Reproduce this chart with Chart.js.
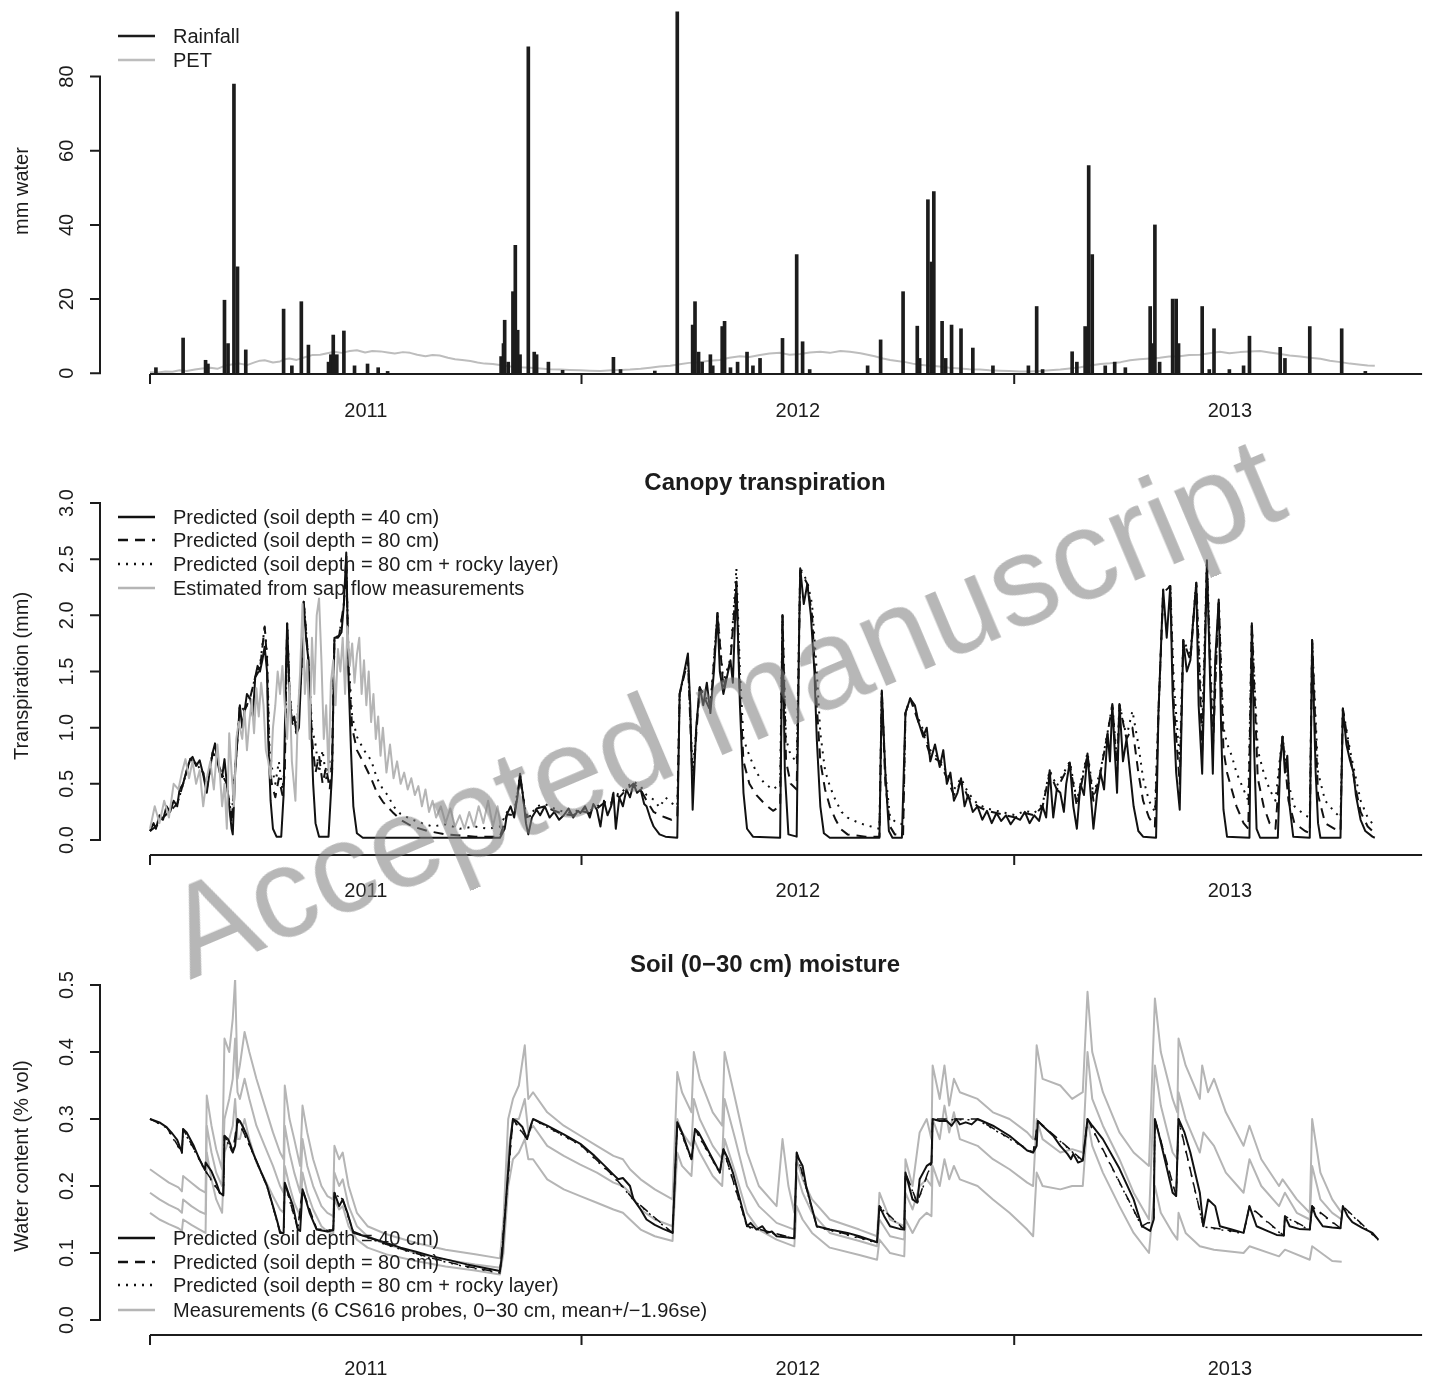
<!DOCTYPE html>
<html><head><meta charset="utf-8">
<script src="https://cdn.jsdelivr.net/npm/chart.js@4.4.0/dist/chart.umd.min.js"></script>
<style>
html,body{margin:0;padding:0;background:#fff;}
#wrap{position:relative;width:1437px;height:1385px;overflow:hidden;background:#fff;}
canvas{position:absolute;left:0;}
#wm{position:absolute;left:190px;top:871.6px;font:128px "Liberation Sans",Arial,sans-serif;line-height:1;white-space:nowrap;color:rgba(128,128,128,0.57);transform-origin:0 108.4px;transform:rotate(-22.9deg);pointer-events:none;}
</style></head><body>
<div id="wrap">
<canvas id="c1" width="1437" height="420" style="top:0;width:1437px;height:420px"></canvas>
<canvas id="c2" width="1437" height="480" style="top:420px;width:1437px;height:480px"></canvas>
<canvas id="c3" width="1437" height="485" style="top:900px;width:1437px;height:485px"></canvas>
<div id="wm">Accepted manuscript</div>
</div>
<script>
// ---------- time axis (days since 2011-01-01) ----------
const yearLabels = ['2011', '2012', '2013'];
const yearStarts = [0, 365, 731];
const yearMids = [182.5, 548, 913.5];
const xAxisRange = [0, 1076];

// ---------- panel 1: rainfall & PET (mm water) ----------
const rainTicks = [0, 20, 40, 60, 80];
const rainfall = [[5,1.5],[28,9.5],[47,3.5],[49,2.5],[63,19.7],[66,8],[71,78],[74,28.7],[81,6.3],[113,17.3],[120,2],[128,19.3],[134,7.6],[151,3],[153,5],[155,10.3],[158,5],[164,11.4],[173,2],[184,2.5],[193,1.5],[201,0.5],[297,4.5],[299,8],[300,14.3],[303,3],[307,22],[309,34.5],[311,11.6],[313,5],[320,88],[325,5.7],[327,5],[337,3],[349,0.8],[392,4.3],[398,1],[427,0.6],[446,97.5],[459,13],[461,19.3],[464,5.7],[467,3],[474,5],[476,2],[484,12.6],[486,14],[491,1.5],[497,3],[505,5.7],[510,2],[516,4],[535,9.4],[547,32],[552,8.5],[558,1],[607,2],[618,9],[637,22],[649,12.7],[651,4],[658,46.8],[661,30],[663,49],[670,14],[673,4],[678,13],[686,12],[696,6.8],[713,2],[743,2],[750,18],[755,1],[780,5.8],[784,3],[791,12.6],[794,56],[797,32],[808,2],[816,3],[825,1.5],[846,18],[848,8],[850,40],[854,3],[865,20],[868,20],[870,8],[890,18],[896,1],[900,12],[913,1],[925,2],[930,10],[956,7],[960,4],[981,12.6],[1008,12],[1028,0.5]];
const pet = [[0,0.3],[7,0.2],[13,0.5],[19,0.4],[25,0.8],[31,0.6],[38,1.0],[44,1.3],[51,1.5],[57,1.2],[63,2.0],[70,2.4],[76,2.6],[82,2.2],[89,3.0],[93,3.4],[97,3.5],[104,2.9],[110,3.2],[114,3.8],[118,4.0],[124,3.6],[131,4.3],[137,4.9],[144,5.0],[150,5.4],[156,5.8],[162,5.5],[169,6.0],[175,6.2],[182,5.6],[188,6.0],[195,5.9],[201,5.6],[207,5.3],[214,5.7],[220,5.5],[226,5.0],[233,4.6],[239,4.9],[245,4.8],[252,4.2],[258,3.8],[264,3.6],[271,3.3],[277,2.9],[283,2.6],[290,2.5],[296,2.2],[305,1.8],[313,1.6],[322,1.5],[330,1.3],[338,1.1],[347,1.0],[355,0.9],[364,0.8],[372,0.7],[381,0.6],[390,0.8],[398,0.9],[406,1.0],[415,1.2],[423,1.5],[431,1.8],[440,2.0],[448,2.4],[456,2.8],[465,3.0],[473,3.4],[482,3.6],[490,4.2],[499,4.6],[507,4.4],[516,4.9],[524,5.3],[533,5.5],[541,5.0],[550,5.2],[558,5.6],[567,5.8],[575,5.5],[584,6.0],[592,5.8],[601,5.4],[607,5.0],[613,4.6],[620,4.0],[626,3.6],[632,3.3],[639,3.0],[645,2.6],[651,2.3],[660,2.0],[668,1.8],[676,1.5],[685,1.3],[693,1.1],[702,1.0],[710,0.8],[719,0.7],[727,0.6],[736,0.5],[744,0.5],[753,0.6],[761,0.8],[770,1.0],[778,1.3],[787,1.6],[795,2.1],[804,2.5],[812,2.7],[821,3.0],[829,3.5],[837,3.8],[846,4.0],[854,4.2],[862,4.5],[871,4.6],[879,4.9],[888,5.0],[896,5.4],[905,5.8],[913,5.4],[922,5.7],[930,5.9],[939,6.0],[947,5.6],[956,5.2],[964,4.8],[973,4.5],[981,4.2],[990,3.9],[998,3.4],[1007,3.0],[1015,2.6],[1024,2.3],[1030,2.1],[1036,2.0]];

// ---------- panel 2: canopy transpiration (mm) ----------
const trTicks = [0, 0.5, 1, 1.5, 2, 2.5, 3];
const trTickLabels = ['0.0', '0.5', '1.0', '1.5', '2.0', '2.5', '3.0'];
const trPred40 = [[0,0.08],[3,0.15],[5,0.1],[8,0.22],[11,0.18],[14,0.3],[17,0.25],[20,0.35],[23,0.3],[25,0.45],[28,0.5],[31,0.62],[34,0.72],[36,0.74],[39,0.66],[42,0.71],[45,0.58],[48,0.42],[51,0.65],[53,0.78],[55,0.86],[57,0.7],[59,0.6],[61,0.56],[63,0.72],[65,0.5],[67,0.3],[69,0.1],[70,0.05],[72,0.6],[74,0.9],[76,1.2],[78,1.0],[80,1.15],[82,1.3],[85,1.25],[87,1.1],[89,1.45],[91,1.55],[93,1.5],[95,1.6],[97,1.72],[99,1.5],[100,0.9],[102,0.35],[104,0.1],[107,0.03],[111,0.03],[113,0.4],[115,1.5],[116,1.93],[118,1.3],[120,1.05],[122,1.1],[124,0.95],[126,1.0],[128,1.5],[130,2.12],[132,1.8],[134,1.6],[136,1.1],[138,0.5],[140,0.15],[143,0.03],[151,0.03],[154,0.6],[156,1.8],[159,1.8],[162,1.85],[164,2.1],[166,2.56],[168,1.42],[170,0.8],[172,0.3],[175,0.06],[180,0.02],[296,0.02],[300,0.1],[302,0.23],[305,0.3],[308,0.2],[311,0.4],[313,0.59],[316,0.35],[318,0.15],[320,0.05],[323,0.2],[327,0.27],[330,0.22],[334,0.3],[338,0.2],[342,0.25],[346,0.18],[350,0.22],[354,0.28],[358,0.2],[362,0.26],[364,0.24],[368,0.3],[372,0.2],[375,0.32],[378,0.27],[381,0.12],[384,0.35],[387,0.22],[390,0.3],[392,0.42],[394,0.1],[397,0.38],[400,0.3],[403,0.45],[406,0.38],[409,0.5],[412,0.42],[415,0.45],[418,0.32],[420,0.3],[423,0.2],[426,0.12],[431,0.05],[436,0.03],[446,0.02],[448,1.3],[451,1.45],[455,1.66],[457,1.2],[459,0.27],[462,1.0],[465,1.36],[468,1.2],[471,1.4],[474,1.13],[477,1.5],[480,2.02],[482,1.5],[485,1.3],[488,1.45],[491,1.6],[493,1.4],[496,2.3],[499,1.2],[502,0.42],[505,0.1],[510,0.03],[533,0.02],[535,2.0],[537,0.6],[540,0.05],[547,0.03],[549,1.8],[550,2.42],[553,2.1],[556,2.28],[559,2.0],[562,1.5],[564,0.9],[567,0.3],[570,0.06],[575,0.02],[617,0.02],[619,1.33],[622,0.6],[625,0.08],[628,0.02],[636,0.02],[639,1.13],[643,1.26],[647,1.2],[650,1.05],[654,0.92],[657,1.0],[660,0.7],[664,0.85],[668,0.65],[671,0.8],[674,0.5],[677,0.6],[680,0.35],[683,0.42],[686,0.55],[689,0.3],[692,0.4],[696,0.25],[700,0.3],[704,0.18],[708,0.26],[712,0.15],[716,0.24],[720,0.17],[724,0.22],[728,0.14],[732,0.2],[736,0.18],[740,0.25],[744,0.15],[748,0.22],[752,0.17],[755,0.3],[758,0.2],[761,0.62],[764,0.2],[767,0.45],[770,0.42],[773,0.25],[775,0.5],[778,0.69],[781,0.3],[784,0.1],[787,0.5],[790,0.4],[793,0.77],[795,0.5],[798,0.1],[801,0.4],[804,0.6],[807,0.45],[810,0.95],[812,0.7],[814,1.21],[816,0.8],[818,0.42],[820,1.21],[823,0.7],[826,0.9],[829,0.6],[832,0.3],[836,0.08],[840,0.03],[851,0.02],[853,1.13],[857,2.23],[860,1.8],[863,2.26],[865,1.3],[868,0.6],[871,0.27],[874,1.78],[877,1.5],[880,1.6],[882,1.9],[885,2.29],[887,1.2],[890,0.59],[892,1.5],[894,2.49],[897,1.3],[899,0.59],[901,1.6],[904,2.14],[906,1.0],[908,0.27],[911,0.03],[930,0.02],[932,1.93],[934,0.8],[936,0.1],[939,0.02],[954,0.02],[956,0.7],[958,0.92],[960,0.6],[962,0.75],[964,0.3],[967,0.03],[981,0.02],[983,1.78],[986,0.6],[988,0.15],[990,0.02],[1007,0.02],[1009,1.17],[1012,0.85],[1015,0.71],[1018,0.6],[1020,0.4],[1024,0.18],[1028,0.08],[1034,0.03],[1036,0.02]];
const trPred80 = [[0,0.08],[5,0.12],[11,0.2],[17,0.26],[23,0.32],[28,0.5],[34,0.72],[39,0.68],[45,0.6],[48,0.45],[53,0.78],[57,0.7],[61,0.58],[65,0.5],[69,0.15],[72,0.62],[76,1.2],[80,1.15],[85,1.28],[89,1.45],[93,1.52],[97,1.9],[99,1.6],[101,0.7],[103,0.5],[106,0.38],[109,0.55],[112,0.4],[114,0.6],[116,1.93],[118,1.3],[120,1.05],[124,0.95],[128,1.5],[130,2.12],[134,1.6],[137,0.9],[140,0.6],[143,0.75],[146,0.5],[149,0.65],[152,0.45],[154,0.7],[156,1.8],[160,1.82],[164,2.1],[166,2.5],[168,1.5],[171,1.0],[175,0.8],[181,0.68],[187,0.55],[192,0.42],[197,0.34],[205,0.25],[212,0.18],[222,0.12],[235,0.08],[250,0.05],[275,0.03],[296,0.03],[302,0.23],[308,0.22],[313,0.55],[318,0.2],[323,0.22],[327,0.28],[334,0.3],[342,0.26],[350,0.23],[358,0.22],[364,0.26],[372,0.24],[378,0.28],[384,0.33],[390,0.3],[392,0.42],[397,0.38],[403,0.45],[409,0.5],[415,0.45],[420,0.35],[426,0.25],[431,0.22],[436,0.2],[441,0.18],[446,0.2],[448,1.3],[455,1.6],[459,0.5],[465,1.36],[474,1.15],[480,2.02],[485,1.35],[491,1.6],[496,2.3],[499,1.3],[502,0.7],[507,0.5],[513,0.4],[520,0.32],[527,0.26],[533,0.3],[535,2.0],[538,0.7],[542,0.5],[547,0.45],[550,2.4],[556,2.28],[560,2.0],[564,1.2],[567,0.7],[571,0.45],[575,0.3],[580,0.18],[584,0.1],[590,0.05],[605,0.03],[617,0.03],[619,1.33],[622,0.5],[626,0.12],[630,0.05],[637,0.04],[639,1.13],[643,1.26],[650,1.05],[654,0.95],[660,0.75],[668,0.7],[674,0.55],[680,0.4],[686,0.52],[692,0.38],[700,0.3],[708,0.26],[716,0.24],[724,0.22],[732,0.2],[740,0.24],[748,0.22],[755,0.3],[761,0.6],[767,0.45],[778,0.68],[784,0.3],[793,0.76],[798,0.35],[804,0.6],[810,0.95],[814,1.2],[818,0.6],[820,1.2],[826,0.9],[831,1.0],[836,0.6],[840,0.35],[845,0.2],[850,0.12],[853,1.13],[857,2.2],[863,2.26],[866,1.2],[871,0.5],[874,1.78],[880,1.6],[885,2.29],[890,0.8],[894,2.45],[899,0.8],[904,2.14],[908,0.8],[911,0.6],[915,0.45],[919,0.3],[925,0.15],[929,0.1],[932,1.93],[937,0.55],[942,0.3],[947,0.15],[952,0.1],[956,0.7],[958,0.92],[963,0.35],[968,0.15],[977,0.08],[981,0.06],[983,1.78],[988,0.4],[994,0.15],[1002,0.1],[1007,0.08],[1009,1.17],[1015,0.75],[1020,0.45],[1024,0.25],[1030,0.12],[1036,0.06]];
const trPred80Rocky = [[0,0.08],[5,0.12],[11,0.2],[17,0.26],[23,0.32],[28,0.5],[34,0.72],[39,0.68],[45,0.6],[48,0.45],[53,0.78],[57,0.7],[61,0.58],[65,0.5],[69,0.2],[72,0.62],[76,1.2],[80,1.15],[85,1.28],[89,1.45],[93,1.55],[97,1.9],[99,1.65],[101,0.85],[103,0.65],[106,0.5],[109,0.7],[112,0.45],[114,0.65],[116,1.93],[118,1.35],[120,1.1],[124,1.0],[128,1.5],[130,2.12],[134,1.6],[137,1.0],[140,0.85],[143,0.6],[146,0.8],[149,0.55],[152,0.7],[154,0.6],[156,1.8],[160,1.82],[164,2.1],[166,2.5],[168,1.6],[171,1.1],[175,0.92],[181,0.8],[187,0.71],[192,0.55],[197,0.45],[201,0.4],[206,0.3],[212,0.23],[222,0.18],[230,0.15],[239,0.12],[250,0.14],[262,0.1],[275,0.12],[286,0.1],[296,0.12],[302,0.25],[308,0.24],[313,0.58],[318,0.22],[323,0.24],[327,0.3],[334,0.32],[342,0.28],[350,0.25],[358,0.24],[364,0.28],[372,0.26],[378,0.3],[384,0.34],[390,0.32],[392,0.43],[397,0.4],[403,0.47],[409,0.52],[415,0.48],[420,0.4],[426,0.36],[431,0.29],[436,0.38],[441,0.33],[446,0.3],[448,1.3],[455,1.62],[459,0.6],[465,1.36],[474,1.2],[480,2.02],[485,1.4],[491,1.62],[496,2.42],[499,1.5],[502,0.9],[507,0.75],[513,0.6],[520,0.5],[527,0.45],[533,0.5],[535,2.0],[538,0.9],[542,0.75],[547,0.7],[550,2.42],[556,2.3],[560,2.1],[564,1.5],[567,0.95],[571,0.62],[575,0.48],[580,0.35],[585,0.25],[590,0.2],[600,0.15],[610,0.12],[617,0.1],[619,1.33],[622,0.6],[626,0.2],[632,0.15],[637,0.14],[639,1.13],[643,1.26],[650,1.08],[654,0.98],[660,0.8],[668,0.72],[674,0.6],[680,0.45],[686,0.55],[692,0.42],[700,0.32],[708,0.28],[716,0.26],[724,0.24],[732,0.22],[740,0.26],[748,0.24],[755,0.32],[761,0.62],[767,0.48],[778,0.7],[784,0.35],[793,0.78],[798,0.4],[804,0.62],[810,0.96],[814,1.21],[818,0.7],[820,1.21],[826,0.92],[831,1.15],[836,0.85],[840,0.55],[845,0.35],[850,0.25],[853,1.13],[857,2.23],[863,2.26],[866,1.4],[871,0.7],[874,1.78],[880,1.65],[885,2.3],[890,1.0],[894,2.49],[899,1.0],[904,2.14],[908,1.0],[911,0.86],[915,0.75],[919,0.6],[925,0.45],[929,0.35],[932,1.93],[937,0.8],[942,0.6],[947,0.45],[952,0.35],[956,0.75],[958,0.92],[963,0.5],[968,0.3],[977,0.22],[981,0.2],[983,1.78],[988,0.6],[994,0.35],[1002,0.25],[1007,0.2],[1009,1.17],[1015,0.8],[1020,0.55],[1024,0.35],[1030,0.2],[1036,0.12]];
const trSapFlow = [[0,0.1],[4,0.3],[8,0.15],[12,0.35],[16,0.2],[20,0.5],[24,0.45],[27,0.6],[30,0.72],[33,0.55],[36,0.7],[39,0.5],[42,0.62],[45,0.3],[48,0.55],[51,0.7],[54,0.45],[57,0.85],[59,0.6],[61,0.3],[63,0.5],[65,0.1],[67,0.95],[69,0.6],[71,0.3],[73,0.9],[75,1.05],[78,0.9],[80,1.15],[82,0.8],[84,1.05],[86,1.25],[88,0.95],[90,1.35],[92,1.1],[94,1.4],[96,1.2],[98,0.8],[100,0.7],[102,0.55],[104,1.0],[106,1.2],[108,1.5],[110,1.3],[112,1.55],[114,1.2],[116,0.9],[118,1.4],[120,0.7],[123,0.35],[125,1.1],[127,1.5],[129,2.1],[131,1.3],[133,1.6],[135,0.9],[137,1.8],[139,1.3],[141,2.0],[143,2.15],[145,1.6],[147,0.9],[149,1.2],[151,0.6],[153,1.4],[155,1.6],[157,1.2],[159,1.7],[161,1.5],[163,1.8],[165,1.3],[167,1.9],[169,1.55],[171,1.75],[173,1.4],[175,1.65],[177,1.8],[179,1.3],[181,1.6],[183,1.2],[185,1.5],[187,1.05],[189,1.3],[191,0.9],[193,1.1],[195,0.75],[197,1.0],[200,0.6],[203,0.85],[206,0.55],[209,0.7],[212,0.5],[215,0.6],[218,0.45],[221,0.55],[224,0.4],[227,0.48],[230,0.3],[233,0.45],[236,0.25],[239,0.35],[242,0.2],[246,0.3],[250,0.15],[254,0.28],[258,0.12],[262,0.22],[266,0.1],[270,0.25],[274,0.12],[278,0.3],[282,0.15],[286,0.35],[290,0.12],[294,0.3],[297,0.1]];

// ---------- panel 3: soil (0-30 cm) moisture ----------
const smTicks = [0, 0.1, 0.2, 0.3, 0.4, 0.5];
const smTickLabels = ['0.0', '0.1', '0.2', '0.3', '0.4', '0.5'];
const smPred40 = [[0,0.3],[8,0.295],[14,0.288],[19,0.278],[23,0.269],[27,0.25],[28,0.285],[31,0.28],[37,0.26],[42,0.239],[46.5,0.224],[47,0.235],[52,0.222],[56,0.205],[59,0.19],[62,0.186],[63,0.275],[66,0.27],[68,0.262],[70,0.25],[72,0.26],[74,0.3],[76,0.297],[79,0.287],[82,0.275],[87,0.25],[93,0.225],[99,0.2],[104,0.17],[108,0.145],[110,0.13],[113,0.13],[114,0.205],[117,0.19],[121,0.17],[125,0.135],[127,0.133],[129,0.195],[132,0.178],[135,0.16],[141,0.135],[150,0.132],[155,0.134],[156,0.19],[160,0.17],[163,0.18],[167,0.16],[172,0.13],[184,0.124],[200,0.115],[212,0.108],[225,0.102],[239,0.095],[254,0.089],[268,0.083],[282,0.078],[296,0.073],[298,0.1],[302,0.2],[305,0.27],[307,0.3],[310,0.297],[315,0.288],[319,0.27],[322,0.29],[324,0.3],[336,0.29],[350,0.277],[364,0.263],[376,0.245],[387,0.226],[392,0.217],[396,0.21],[400,0.212],[406,0.2],[409,0.18],[415,0.165],[420,0.15],[427,0.142],[434,0.136],[442,0.13],[446,0.295],[450,0.28],[454,0.26],[458,0.24],[461,0.285],[464,0.28],[470,0.26],[476,0.24],[482,0.22],[485,0.255],[489,0.24],[493,0.22],[499,0.18],[505,0.14],[508,0.145],[513,0.135],[518,0.14],[522,0.13],[526,0.132],[530,0.125],[545,0.122],[547,0.25],[549,0.24],[552,0.23],[555,0.2],[558,0.18],[564,0.14],[575,0.135],[590,0.13],[600,0.125],[615,0.116],[617,0.17],[621,0.155],[626,0.14],[634,0.136],[638,0.135],[639,0.22],[642,0.2],[645,0.18],[649,0.175],[651,0.21],[654,0.22],[657,0.23],[661,0.235],[662,0.3],[668,0.297],[674,0.297],[678,0.29],[682,0.3],[685,0.292],[690,0.295],[695,0.292],[700,0.3],[713,0.29],[727,0.275],[742,0.253],[747,0.25],[750,0.26],[751,0.297],[755,0.29],[764,0.275],[770,0.26],[776,0.248],[779,0.24],[781,0.248],[785,0.235],[789,0.238],[793,0.3],[797,0.29],[806,0.27],[820,0.226],[832,0.18],[839,0.14],[846,0.133],[849,0.15],[850,0.3],[853,0.28],[857,0.25],[865,0.19],[868,0.185],[870,0.3],[875,0.28],[880,0.25],[888,0.19],[891,0.14],[895,0.18],[901,0.17],[905,0.14],[915,0.135],[925,0.13],[930,0.17],[933,0.155],[936,0.14],[945,0.133],[953,0.127],[959,0.126],[960,0.155],[964,0.14],[972,0.136],[981,0.135],[983,0.17],[986,0.155],[992,0.14],[1000,0.138],[1007,0.137],[1009,0.17],[1013,0.155],[1017,0.146],[1025,0.138],[1034,0.13],[1039,0.12]];
const smPred80 = [[0,0.3],[14,0.288],[27,0.25],[28,0.285],[42,0.24],[46.5,0.224],[59,0.19],[62,0.186],[63,0.275],[70,0.25],[74,0.3],[87,0.25],[99,0.2],[110,0.132],[113,0.13],[114,0.205],[125,0.136],[129,0.195],[141,0.136],[155,0.134],[156,0.19],[163,0.18],[172,0.132],[200,0.113],[239,0.092],[268,0.08],[296,0.071],[307,0.3],[319,0.27],[324,0.3],[364,0.262],[392,0.215],[409,0.18],[442,0.13],[446,0.295],[458,0.24],[461,0.285],[482,0.22],[485,0.255],[505,0.14],[545,0.122],[547,0.25],[564,0.14],[615,0.116],[617,0.17],[638,0.135],[639,0.22],[649,0.175],[661,0.235],[662,0.3],[700,0.3],[747,0.25],[751,0.297],[789,0.238],[793,0.3],[839,0.14],[849,0.15],[850,0.3],[868,0.185],[870,0.3],[891,0.14],[925,0.13],[930,0.17],[959,0.126],[960,0.155],[981,0.135],[983,0.17],[1007,0.137],[1009,0.17],[1039,0.12]];
const smPred80Rocky = [[0,0.3],[14,0.287],[27,0.249],[28,0.284],[42,0.238],[46.5,0.223],[59,0.189],[62,0.185],[63,0.274],[70,0.249],[74,0.299],[87,0.249],[99,0.199],[110,0.131],[113,0.129],[114,0.204],[125,0.135],[129,0.194],[141,0.135],[155,0.133],[156,0.189],[163,0.179],[172,0.131],[200,0.112],[239,0.091],[268,0.079],[296,0.07],[307,0.299],[319,0.269],[324,0.299],[364,0.261],[392,0.214],[409,0.179],[442,0.129],[446,0.294],[458,0.239],[461,0.284],[482,0.219],[485,0.254],[505,0.139],[545,0.121],[547,0.249],[564,0.139],[615,0.115],[617,0.169],[638,0.134],[639,0.219],[649,0.174],[661,0.234],[662,0.299],[700,0.299],[747,0.249],[751,0.296],[789,0.237],[793,0.299],[839,0.139],[849,0.149],[850,0.299],[868,0.184],[870,0.299],[891,0.139],[925,0.129],[930,0.169],[959,0.125],[960,0.154],[981,0.134],[983,0.169],[1007,0.136],[1009,0.169],[1039,0.119]];
const smMeasMean = [[0,0.19],[8,0.18],[16,0.172],[24,0.165],[27,0.16],[28,0.18],[35,0.17],[42,0.162],[47,0.158],[48,0.29],[52,0.25],[56,0.22],[61,0.2],[63,0.3],[67,0.33],[70,0.36],[72,0.42],[74,0.34],[76,0.33],[80,0.36],[84,0.33],[90,0.29],[97,0.26],[104,0.23],[110,0.2],[113,0.19],[114,0.29],[118,0.25],[122,0.22],[127,0.19],[129,0.27],[133,0.23],[138,0.2],[145,0.17],[150,0.16],[155,0.155],[156,0.22],[160,0.2],[163,0.21],[168,0.17],[175,0.14],[184,0.125],[200,0.113],[225,0.1],[250,0.09],[275,0.083],[296,0.078],[299,0.12],[303,0.25],[307,0.3],[312,0.3],[317,0.33],[320,0.28],[324,0.29],[336,0.26],[350,0.245],[364,0.232],[378,0.22],[392,0.205],[400,0.2],[406,0.19],[415,0.165],[427,0.15],[442,0.14],[446,0.3],[450,0.28],[458,0.26],[460,0.33],[465,0.3],[476,0.26],[484,0.24],[486,0.33],[495,0.27],[505,0.2],[515,0.17],[530,0.145],[545,0.135],[547,0.22],[552,0.19],[560,0.16],[575,0.13],[600,0.118],[615,0.11],[617,0.15],[626,0.125],[638,0.12],[639,0.19],[645,0.165],[651,0.2],[657,0.21],[661,0.2],[662,0.3],[668,0.27],[672,0.32],[676,0.28],[680,0.31],[685,0.27],[700,0.26],[713,0.24],[727,0.225],[742,0.205],[747,0.2],[750,0.3],[755,0.27],[770,0.25],[780,0.255],[789,0.25],[793,0.4],[797,0.33],[806,0.29],[820,0.24],[832,0.19],[845,0.15],[850,0.38],[855,0.32],[865,0.25],[869,0.24],[870,0.34],[876,0.3],[888,0.25],[891,0.28],[900,0.26],[910,0.22],[925,0.19],[930,0.24],[940,0.2],[955,0.17],[960,0.19],[970,0.16],[981,0.15],[983,0.23],[990,0.18],[1000,0.16],[1008,0.15]];
const smMeasUpper = [[0,0.225],[8,0.215],[16,0.205],[24,0.198],[27,0.192],[28,0.215],[35,0.205],[42,0.195],[47,0.19],[48,0.335],[52,0.29],[56,0.255],[61,0.225],[63,0.42],[67,0.4],[70,0.45],[72,0.51],[74,0.36],[76,0.38],[80,0.43],[84,0.4],[90,0.36],[97,0.32],[104,0.28],[110,0.25],[113,0.24],[114,0.35],[118,0.3],[122,0.27],[127,0.23],[129,0.32],[133,0.28],[138,0.24],[145,0.2],[150,0.185],[155,0.18],[156,0.26],[160,0.24],[163,0.25],[168,0.2],[175,0.16],[184,0.14],[200,0.128],[225,0.115],[250,0.105],[275,0.098],[296,0.092],[299,0.15],[303,0.3],[307,0.33],[312,0.35],[317,0.41],[320,0.33],[324,0.34],[336,0.31],[350,0.29],[364,0.275],[378,0.26],[392,0.245],[400,0.24],[406,0.225],[415,0.21],[427,0.195],[442,0.18],[446,0.37],[450,0.34],[458,0.31],[460,0.4],[465,0.36],[476,0.31],[484,0.29],[486,0.4],[495,0.33],[505,0.25],[515,0.2],[530,0.17],[535,0.27],[540,0.2],[545,0.16],[547,0.24],[552,0.21],[560,0.18],[575,0.15],[600,0.135],[615,0.125],[617,0.19],[626,0.15],[638,0.14],[639,0.24],[645,0.2],[651,0.28],[657,0.3],[661,0.27],[662,0.38],[668,0.33],[672,0.38],[676,0.32],[680,0.36],[685,0.34],[700,0.33],[713,0.31],[727,0.3],[742,0.28],[747,0.27],[750,0.41],[755,0.36],[770,0.35],[780,0.33],[789,0.34],[793,0.49],[797,0.4],[806,0.34],[820,0.28],[832,0.25],[845,0.23],[850,0.48],[855,0.4],[865,0.33],[869,0.31],[870,0.42],[876,0.38],[888,0.33],[890,0.38],[895,0.34],[900,0.36],[910,0.31],[925,0.26],[930,0.29],[940,0.24],[955,0.2],[958,0.21],[970,0.18],[981,0.16],[983,0.3],[990,0.22],[1000,0.18],[1008,0.16]];
const smMeasLower = [[0,0.16],[8,0.15],[16,0.143],[24,0.137],[27,0.133],[28,0.15],[35,0.142],[42,0.135],[47,0.13],[48,0.25],[52,0.21],[56,0.18],[61,0.16],[63,0.25],[67,0.27],[70,0.29],[72,0.33],[74,0.27],[76,0.27],[80,0.3],[84,0.27],[90,0.235],[97,0.21],[104,0.185],[110,0.165],[113,0.16],[114,0.23],[118,0.2],[122,0.175],[127,0.155],[129,0.22],[133,0.19],[138,0.165],[145,0.14],[150,0.132],[155,0.128],[156,0.18],[160,0.165],[163,0.17],[168,0.14],[175,0.12],[184,0.108],[200,0.098],[225,0.088],[250,0.08],[275,0.074],[296,0.068],[299,0.1],[303,0.2],[307,0.24],[312,0.25],[317,0.27],[320,0.24],[324,0.24],[336,0.21],[350,0.195],[364,0.185],[378,0.175],[392,0.165],[400,0.16],[406,0.15],[415,0.135],[427,0.125],[442,0.118],[446,0.25],[450,0.23],[458,0.215],[460,0.27],[465,0.25],[476,0.215],[484,0.2],[486,0.27],[495,0.22],[505,0.16],[515,0.135],[530,0.12],[545,0.11],[547,0.17],[552,0.15],[560,0.13],[575,0.108],[600,0.097],[615,0.09],[617,0.12],[626,0.1],[638,0.095],[639,0.15],[645,0.13],[651,0.15],[657,0.16],[661,0.155],[662,0.23],[668,0.2],[672,0.24],[676,0.21],[680,0.23],[685,0.21],[700,0.2],[713,0.18],[727,0.16],[742,0.135],[747,0.125],[750,0.22],[755,0.2],[770,0.195],[780,0.2],[789,0.2],[793,0.3],[797,0.26],[806,0.22],[820,0.17],[832,0.13],[845,0.1],[850,0.2],[855,0.16],[865,0.13],[869,0.12],[870,0.16],[876,0.13],[888,0.11],[900,0.105],[925,0.1],[930,0.11],[955,0.095],[960,0.105],[981,0.09],[983,0.11],[1000,0.088],[1008,0.087]];

// ---------- drawing ----------
const FONT = '"Liberation Sans", Arial, Helvetica, sans-serif';
const INK = '#1c1c1c';
const GREY = '#b5b5b5';
const pts = a => a.map(([x, y]) => ({x, y}));

const rStyle = {
  id: 'rStyle',
  afterDraw(chart, args, o) {
    const ctx = chart.ctx, xs = chart.scales.x, ys = chart.scales.y, ca = chart.chartArea;
    const AX = 100;
    ctx.save();
    ctx.strokeStyle = INK; ctx.fillStyle = INK; ctx.lineWidth = 2; ctx.setLineDash([]); ctx.lineCap = 'butt';
    // y axis
    const yt = o.yTicks;
    ctx.beginPath();
    ctx.moveTo(AX, ys.getPixelForValue(yt[0]));
    ctx.lineTo(AX, ys.getPixelForValue(yt[yt.length - 1]));
    yt.forEach(v => { const p = ys.getPixelForValue(v); ctx.moveTo(AX + 1, p); ctx.lineTo(AX - 10, p); });
    ctx.stroke();
    ctx.font = '20px ' + FONT; ctx.textAlign = 'center'; ctx.textBaseline = 'alphabetic';
    yt.forEach((v, i) => {
      const p = ys.getPixelForValue(v);
      ctx.save(); ctx.translate(73, p); ctx.rotate(-Math.PI / 2); ctx.fillText(o.yLabels[i], 0, 0); ctx.restore();
    });
    ctx.save(); ctx.translate(28, (ca.top + ca.bottom) / 2); ctx.rotate(-Math.PI / 2); ctx.fillText(o.yTitle, 0, 0); ctx.restore();
    // x axis
    const ay = o.xAxisY;
    ctx.beginPath();
    ctx.moveTo(xs.getPixelForValue(xAxisRange[0]), ay);
    ctx.lineTo(xs.getPixelForValue(xAxisRange[1]), ay);
    yearStarts.forEach(d => { const p = xs.getPixelForValue(d); ctx.moveTo(p, ay); ctx.lineTo(p, ay + 10); });
    ctx.stroke();
    yearLabels.forEach((t, i) => ctx.fillText(t, xs.getPixelForValue(yearMids[i]), ay + o.yearGap + 7));
    // title
    if (o.title) {
      ctx.font = 'bold 24px ' + FONT;
      ctx.fillText(o.title, (ca.left + ca.right) / 2, o.titleY);
    }
    // legend
    ctx.font = '20px ' + FONT; ctx.textAlign = 'left';
    o.legendOrder.forEach((di, i) => {
      const ds = chart.data.datasets[di];
      const y = o.legendY[i];
      ctx.strokeStyle = ds.legendColor || ds.borderColor;
      ctx.lineWidth = 2.6;
      ctx.setLineDash(ds.borderDash || []);
      ctx.beginPath(); ctx.moveTo(118, y); ctx.lineTo(155, y); ctx.stroke();
      ctx.setLineDash([]);
      ctx.fillStyle = INK;
      ctx.fillText(ds.label, 173, y + 7);
    });
    ctx.restore();
  }
};

const xScale = {type: 'linear', min: -42.3, max: 1082.7, display: false, offset: false, grid: {offset: false}};
const lineBase = {pointRadius: 0, pointHoverRadius: 0, borderWidth: 2, tension: 0, borderJoinStyle: 'round', fill: false};
const common = (padTop, padBottom) => ({
  responsive: false, animation: false, devicePixelRatio: 1,
  events: [],
  layout: {autoPadding: false, padding: {left: 100, right: 7, top: padTop, bottom: padBottom}},
  plugins: {legend: {display: false}, tooltip: {enabled: false}, title: {display: false}}
});

// Panel 1
new Chart(document.getElementById('c1'), {
  type: 'bar',
  data: {datasets: [
    {type: 'bar', label: 'Rainfall', data: pts(rainfall), backgroundColor: INK, borderColor: INK, barThickness: 3, grouped: false, order: 0},
    {type: 'line', label: 'PET', data: pts(pet), borderColor: '#bdbdbd', ...lineBase, borderWidth: 2, order: 1}
  ]},
  options: Object.assign(common(8, 46), {
    scales: {x: xScale, y: {type: 'linear', min: -0.2, max: 98.5, display: false}},
    plugins: {legend: {display: false}, tooltip: {enabled: false},
      rStyle: {yTicks: rainTicks, yLabels: rainTicks.map(String), yTitle: 'mm water', xAxisY: 374, yearGap: 36,
        legendOrder: [0, 1], legendY: [36, 60]}}
  }),
  plugins: [rStyle]
});

// Panel 2
new Chart(document.getElementById('c2'), {
  type: 'line',
  data: {datasets: [
    {label: 'Predicted (soil depth = 40 cm)', data: pts(trPred40), borderColor: '#111', ...lineBase, order: 1},
    {label: 'Predicted (soil depth = 80 cm)', data: pts(trPred80), borderColor: '#111', borderDash: [10, 7], ...lineBase, order: 2},
    {label: 'Predicted (soil depth = 80 cm + rocky layer)', data: pts(trPred80Rocky), borderColor: '#111', borderDash: [2, 6], ...lineBase, order: 3},
    {label: 'Estimated from sap flow measurements', data: pts(trSapFlow), borderColor: GREY, ...lineBase, order: 0}
  ]},
  options: Object.assign(common(80, 48), {
    scales: {x: xScale, y: {type: 'linear', min: -0.1068, max: 3.0267, display: false}},
    plugins: {legend: {display: false}, tooltip: {enabled: false},
      rStyle: {yTicks: trTicks, yLabels: trTickLabels, yTitle: 'Transpiration (mm)', xAxisY: 435, yearGap: 35,
        title: 'Canopy transpiration', titleY: 70, legendOrder: [0, 1, 2, 3], legendY: [97, 120, 144, 168]}}
  }),
  plugins: [rStyle]
});

// Panel 3
new Chart(document.getElementById('c3'), {
  type: 'line',
  data: {datasets: [
    {label: 'Predicted (soil depth = 40 cm)', data: pts(smPred40), borderColor: '#111', ...lineBase, order: 0},
    {label: 'Predicted (soil depth = 80 cm)', data: pts(smPred80), borderColor: '#111', borderDash: [10, 7], ...lineBase, borderWidth: 1.5, order: 1},
    {label: 'Predicted (soil depth = 80 cm + rocky layer)', data: pts(smPred80Rocky), borderColor: '#111', borderDash: [2, 6], ...lineBase, borderWidth: 1.5, order: 2},
    {label: 'Measurements (6 CS616 probes, 0\u221230 cm, mean+/\u22121.96se)', data: pts(smMeasMean), borderColor: GREY, ...lineBase, order: 3},
    {label: 'upper', data: pts(smMeasUpper), borderColor: GREY, ...lineBase, order: 4},
    {label: 'lower', data: pts(smMeasLower), borderColor: GREY, ...lineBase, order: 5}
  ]},
  options: Object.assign(common(80, 53), {
    scales: {x: xScale, y: {type: 'linear', min: -0.0179, max: 0.5075, display: false}},
    plugins: {legend: {display: false}, tooltip: {enabled: false},
      rStyle: {yTicks: smTicks, yLabels: smTickLabels, yTitle: 'Water content (% vol)', xAxisY: 435, yearGap: 33,
        title: 'Soil (0\u221230 cm) moisture', titleY: 72, legendOrder: [0, 1, 2, 3], legendY: [338, 362, 385, 410]}}
  }),
  plugins: [rStyle]
});
</script>
</body></html>
